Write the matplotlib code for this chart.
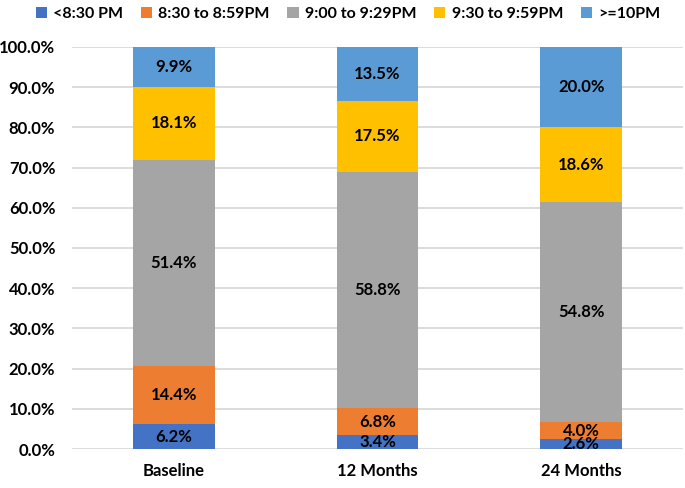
import numpy as np
import matplotlib.pyplot as plt
from matplotlib.ticker import PercentFormatter

plt.rcParams["font.family"] = ["Lato", "DejaVu Sans"]

categories = ["Baseline", "12 Months", "24 Months"]
series = ["<8:30 PM", "8:30 to 8:59PM", "9:00 to 9:29PM", "9:30 to 9:59PM", ">=10PM"]
before_830 = [6.2, 3.4, 2.6]
from_830 = [14.4, 6.8, 4.0]
from_900 = [51.4, 58.8, 54.8]
from_930 = [18.1, 17.5, 18.6]
after_10 = [9.9, 13.5, 20.0]
colors = ["#4472C4", "#ED7D31", "#A5A5A5", "#FFC000", "#5B9BD5"]

values = [before_830, from_830, from_900, from_930, after_10]

fig = plt.figure(figsize=(6.85, 4.88), dpi=100)
ax = fig.add_axes([72 / 685, 1 - 449 / 488, 611 / 685, 402 / 488])

x = np.arange(len(categories))
bottom = np.zeros(len(categories))
for name, vals, col in zip(series, values, colors):
    vals = np.array(vals)
    ax.bar(x, vals, 0.4, bottom=bottom, color=col, label=name, zorder=3)
    for xi, b, v in zip(x, bottom, vals):
        ax.text(xi, b + v / 2, f"{v:.1f}%", ha="center", va="center",
                fontsize=12, fontweight="bold", color="black", zorder=4)
    bottom += vals

ax.set_ylim(0, 100)
ax.set_xlim(-0.5, 2.5)
ax.set_yticks(np.arange(0, 101, 10))
ax.yaxis.set_major_formatter(PercentFormatter(decimals=1))
ax.set_xticks(x)
ax.set_xticklabels(categories)
ax.tick_params(length=0, labelsize=12)
ax.tick_params(axis="y", pad=12)
ax.tick_params(axis="x", pad=10)
for lab in ax.get_xticklabels() + ax.get_yticklabels():
    lab.set_fontweight("bold")
ax.grid(axis="y", color="#D9D9D9", linewidth=1.3, zorder=0)
for s in ax.spines.values():
    s.set_visible(False)

fig.legend(loc="center", bbox_to_anchor=(0.508, 1 - 14 / 488), ncol=5, frameon=False,
           handlelength=0.7, handleheight=0.7, handletextpad=0.4,
           columnspacing=1.1, prop={"weight": "bold", "size": 11.5})

fig.savefig("out.png", dpi=100)
